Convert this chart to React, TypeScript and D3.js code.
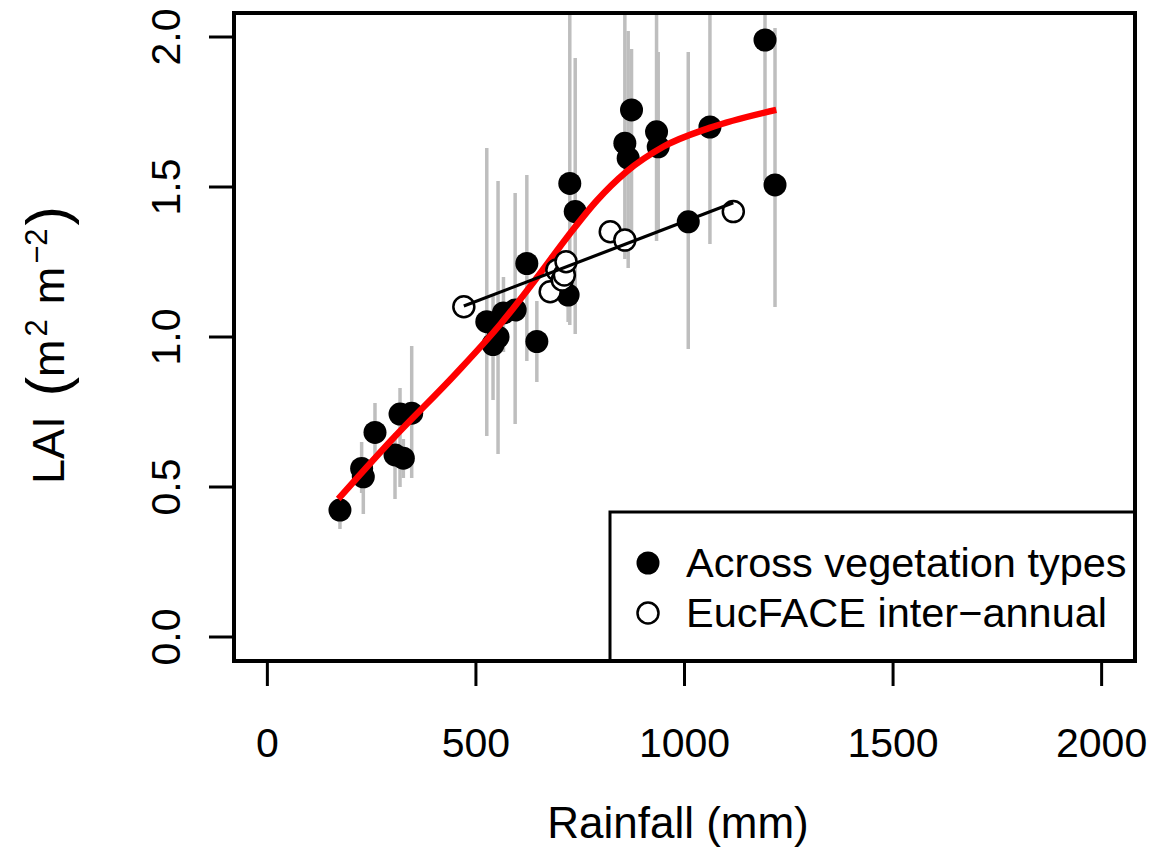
import React from "react";
import * as d3 from "d3";

// Across vegetation types (filled circles) with grey range bars
const acrossRain = [174, 226, 230, 258, 306, 318, 326, 346, 526, 541, 553, 566, 594, 622, 646, 721, 725, 738, 857, 865, 873, 933, 937, 1009, 1061, 1193, 1217];
const acrossLAI = [0.423, 0.562, 0.534, 0.682, 0.607, 0.743, 0.596, 0.746, 1.051, 0.975, 1.0, 1.08, 1.09, 1.245, 0.985, 1.14, 1.512, 1.418, 1.646, 1.596, 1.757, 1.684, 1.634, 1.384, 1.7, 1.99, 1.507];
const acrossLo = [0.36, 0.48, 0.41, 0.6, 0.46, 0.5, 0.53, 0.53, 0.67, 0.79, 0.61, 0.95, 0.71, 0.92, 0.85, 1.05, 1.04, 1.01, 1.26, 1.23, 1.3, 1.32, 1.35, 0.96, 1.31, 1.52, 1.1];
const acrossHi = [0.47, 0.65, 0.6, 0.78, 0.68, 0.83, 0.66, 0.97, 1.63, 1.14, 1.52, 1.2, 1.48, 1.54, 1.12, 1.25, 2.3, 1.93, 2.3, 2.02, 1.96, 2.3, 1.95, 1.95, 2.3, 2.3, 2.03];

// EucFACE inter-annual (open circles)
const eucRain = [471, 678, 694, 707, 712, 716, 822, 857, 1117];
const eucLAI = [1.101, 1.151, 1.223, 1.19, 1.207, 1.251, 1.351, 1.323, 1.418];

// Linear fit for EucFACE
const fitIntercept = 0.852;
const fitSlope = 0.000533;

// Smooth (red) across vegetation types
const smoothRain = [170, 300, 450, 560, 650, 720, 790, 860, 950, 1060, 1220];
const smoothLAI = [0.46, 0.66, 0.875, 1.045, 1.205, 1.335, 1.455, 1.55, 1.635, 1.697, 1.757];

const xTicks = [0, 500, 1000, 1500, 2000];
const yTicks = [0, 0.5, 1.0, 1.5, 2.0];
const yTickLabels = ["0.0", "0.5", "1.0", "1.5", "2.0"];
const legendLabels = ["Across vegetation types", "EucFACE inter\u2212annual"];

const FONT = "'Liberation Sans', Arial, Helvetica, sans-serif";

export default function App() {
  const W = 1153, H = 862;
  const left = 234, right = 1135, top = 13, bottom = 661;
  const x = d3.scaleLinear().domain([-80, 2080]).range([left, right]);
  const y = d3.scaleLinear().domain([-0.08, 2.08]).range([bottom, top]);

  const smoothPath = d3.line<number>()
    .x((_, i) => x(smoothRain[i]))
    .y((d) => y(d))
    .curve(d3.curveMonotoneX)(smoothLAI) || "";

  const fitX0 = d3.min(eucRain)!;
  const fitX1 = d3.max(eucRain)!;
  const fitPath = d3.line<number>()
    .x((d) => x(d))
    .y((d) => y(fitIntercept + fitSlope * d))([fitX0, fitX1]) || "";

  const tickLen = 25;
  const r = 11.5;

  return (
    <svg width={W} height={H} style={{ position: "absolute", left: 0, top: 0, background: "#fff" }} fontFamily={FONT}>
      <defs>
        <clipPath id="plotclip">
          <rect x={left} y={top} width={right - left} height={bottom - top} />
        </clipPath>
      </defs>
      <rect x={0} y={0} width={W} height={H} fill="#fff" />

      <g clipPath="url(#plotclip)">
        {acrossRain.map((rv, i) => (
          <line key={"b" + i} x1={x(rv)} x2={x(rv)} y1={y(acrossLo[i])} y2={y(acrossHi[i])} stroke="#bebebe" strokeWidth={3.5} />
        ))}
        {acrossRain.map((rv, i) => (
          <circle key={"p" + i} cx={x(rv)} cy={y(acrossLAI[i])} r={r} fill="#000" />
        ))}
        <path d={smoothPath} fill="none" stroke="#ff0000" strokeWidth={6.5} strokeLinecap="butt" />
        {eucRain.map((rv, i) => (
          <circle key={"o" + i} cx={x(rv)} cy={y(eucLAI[i])} r={r - 1} fill="#fff" stroke="#000" strokeWidth={2.5} />
        ))}
        <path d={fitPath} fill="none" stroke="#000" strokeWidth={3.2} />
      </g>

      {/* x axis */}
      {xTicks.map((t) => (
        <g key={"xt" + t}>
          <line x1={x(t)} x2={x(t)} y1={bottom} y2={bottom + tickLen} stroke="#000" strokeWidth={3} />
          <text x={x(t)} y={757} fontSize={41} textAnchor="middle" fill="#000">{t}</text>
        </g>
      ))}
      {/* y axis */}
      {yTicks.map((t, i) => (
        <g key={"yt" + t}>
          <line x1={left - tickLen} x2={left} y1={y(t)} y2={y(t)} stroke="#000" strokeWidth={3} />
          <text transform={`translate(180,${y(t)}) rotate(-90)`} fontSize={41} textAnchor="middle" fill="#000">{yTickLabels[i]}</text>
        </g>
      ))}

      {/* axis titles */}
      <text x={678} y={838} fontSize={44} textAnchor="middle" fill="#000">Rainfall (mm)</text>
      <text transform={`translate(64,${(top + bottom) / 2 + 8}) rotate(-90)`} fontSize={45} textAnchor="middle" fill="#000">
        LAI
        <tspan dx={20} fontSize={58} dy={3}>(</tspan>
        <tspan dy={-3}>m</tspan>
        <tspan fontSize={31} dy={-17} dx={3}>2</tspan>
        <tspan dy={17} dx={15}>m</tspan>
        <tspan fontSize={31} dy={-17} dx={3}>{"\u22122"}</tspan>
        <tspan fontSize={58} dy={20} dx={3}>)</tspan>
      </text>

      {/* legend */}
      <rect x={610} y={512} width={right - 610} height={bottom - 512} fill="#fff" stroke="#000" strokeWidth={3} />
      <circle cx={648} cy={563} r={r} fill="#000" />
      <circle cx={648} cy={613} r={r - 1} fill="#fff" stroke="#000" strokeWidth={2.5} />
      <text x={686} y={577} fontSize={41.5} fill="#000">{legendLabels[0]}</text>
      <text x={686} y={627} fontSize={41.5} fill="#000">{legendLabels[1]}</text>

      {/* plot box */}
      <rect x={left} y={top} width={right - left} height={bottom - top} fill="none" stroke="#000" strokeWidth={4} />
    </svg>
  );
}
